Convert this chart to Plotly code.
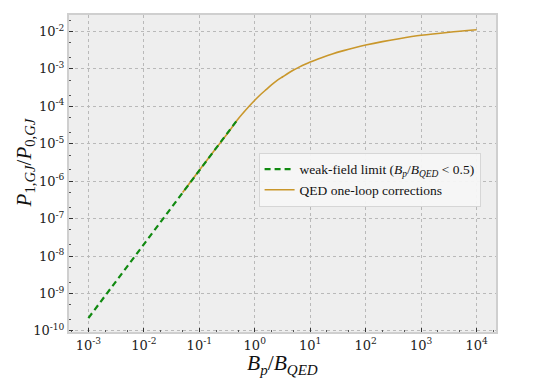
import plotly.graph_objects as go

# weak-field limit (dashed green)
weak_x = [1e-3, 1e-2, 1e-1, 0.5]
weak_y = [2.2e-10, 2.05e-8, 1.95e-6, 4.6e-5]

# QED one-loop corrections (solid gold)
qed_x = [0.05, 0.1, 0.2, 0.32, 0.5, 0.79, 1, 1.26, 1.6, 2, 2.5, 3.2, 4, 5, 6.3, 7.9,
         10, 16, 25, 40, 63, 100, 200, 400, 1000, 3200, 10000]
qed_y = [5.0e-7, 1.95e-6, 7.6e-6, 1.84e-5, 4.57e-5, 1.0e-4, 1.45e-4, 2.04e-4, 2.79e-4,
         3.72e-4, 4.84e-4, 6.17e-4, 7.67e-4, 9.33e-4, 1.117e-3, 1.318e-3,
         1.535e-3, 1.995e-3, 2.51e-3, 3.08e-3, 3.68e-3, 4.33e-3, 5.35e-3, 6.41e-3,
         7.89e-3, 9.55e-3, 1.109e-2]

# tick labels
x_tickvals = [1e-3, 1e-2, 1e-1, 1e0, 1e1, 1e2, 1e3, 1e4]
x_ticktext = ["10<sup>-3</sup>", "10<sup>-2</sup>", "10<sup>-1</sup>", "10<sup>0</sup>",
              "10<sup>1</sup>", "10<sup>2</sup>", "10<sup>3</sup>", "10<sup>4</sup>"]
y_tickvals = [1e-10, 1e-9, 1e-8, 1e-7, 1e-6, 1e-5, 1e-4, 1e-3, 1e-2]
y_ticktext = ["10<sup>-10</sup>", "10<sup>-9</sup>", "10<sup>-8</sup>", "10<sup>-7</sup>",
              "10<sup>-6</sup>", "10<sup>-5</sup>", "10<sup>-4</sup>", "10<sup>-3</sup>",
              "10<sup>-2</sup>"]

GOLD = "#c9972b"
GREEN = "#118a11"
FONT = "DejaVu Serif"
MATHFONT = "Liberation Serif"

fig = go.Figure()
fig.add_trace(go.Scatter(x=qed_x, y=qed_y, mode="lines",
                         line=dict(color=GOLD, width=1.6, shape="spline", smoothing=0.8),
                         name="QED one-loop corrections", legendrank=2))
fig.add_trace(go.Scatter(x=weak_x, y=weak_y, mode="lines", line=dict(color=GREEN, width=2.2, dash="6px,4px"),
                         name="weak-field limit (<i>B</i><sub><i>p</i></sub>/<i>B</i><sub><i>QED</i></sub> &lt; 0.5)",
                         legendrank=1))

axis_common = dict(
    type="log", showgrid=True,
    gridcolor="#b9b9b9", griddash="dot", gridwidth=1,
    ticks="inside", ticklen=4, tickcolor="#333", tickwidth=1,
    minor=dict(ticks="inside", ticklen=2, tickcolor="#555", showgrid=False),
    showline=True, linecolor="#cfcfcf", linewidth=2, mirror=True,
    tickfont=dict(family=FONT, size=13, color="#222"),
    zeroline=False,
)

fig.update_layout(
    width=550, height=378,
    margin=dict(l=69, r=54, t=15, b=46),
    paper_bgcolor="white", plot_bgcolor="#eeeeee",
    font=dict(family=FONT, color="#222"),
    xaxis=dict(range=[-3.35, 4.35], tickvals=x_tickvals, ticktext=x_ticktext, **axis_common),
    yaxis=dict(range=[-10.03, -1.56], tickvals=y_tickvals, ticktext=y_ticktext, **axis_common),
    legend=dict(x=0.444, y=0.565, xanchor="left", yanchor="top",
                bgcolor="rgba(246,246,246,0.95)", bordercolor="#d6d6d6", borderwidth=1,
                font=dict(family=MATHFONT, size=13.5, color="#111"),
                tracegroupgap=0, itemwidth=30),
    showlegend=True,
    annotations=[
        dict(text="<i>B</i><sub><i>p</i></sub>/<i>B</i><sub><i>QED</i></sub>",
             xref="paper", yref="paper", x=0.5, y=-0.101, xanchor="center", yanchor="middle",
             showarrow=False, font=dict(family=MATHFONT, size=21.5, color="#111")),
        dict(text="<i>P</i><sub>1,<i>GJ</i></sub>/<i>P</i><sub>0,<i>GJ</i></sub>",
             xref="paper", yref="paper", x=-0.103, y=0.535, xanchor="center", yanchor="middle",
             textangle=-90, showarrow=False, font=dict(family=MATHFONT, size=21, color="#111")),
    ],
)

fig.write_html("out.html", config={"displayModeBar": False},
               post_script="document.body.style.margin='0px';document.body.style.padding='0px';")
